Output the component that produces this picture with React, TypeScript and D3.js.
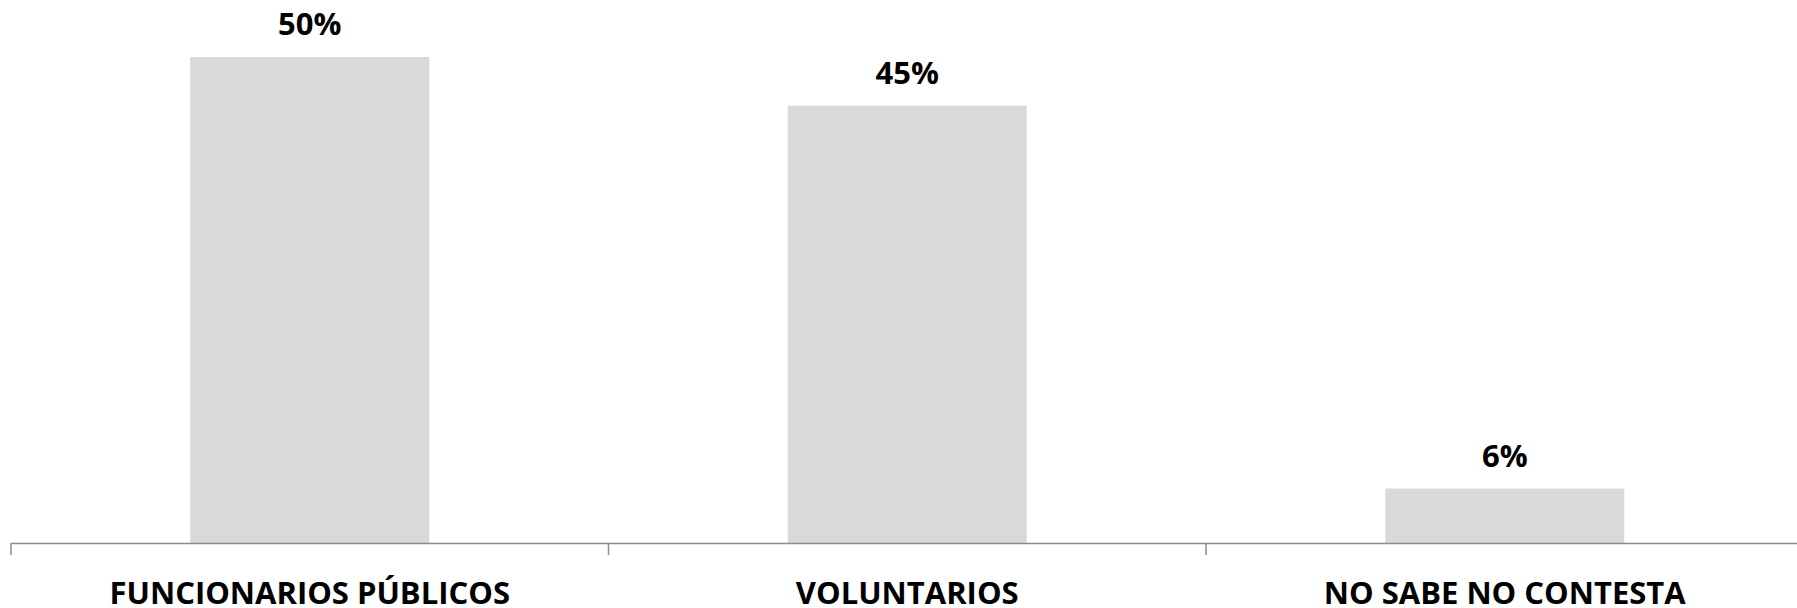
import React from "react";
import * as d3 from "d3";

const categories = ["FUNCIONARIOS PÚBLICOS", "VOLUNTARIOS", "NO SABE NO CONTESTA"];
const values = [50, 45, 5.6];

const W = 1797;
const H = 608;

export default function App() {
  const x = d3
    .scaleBand<string>()
    .domain(categories)
    .range([11, 1803.5])
    .paddingInner(0.6)
    .paddingOuter(0.3);
  const y = d3.scaleLinear().domain([0, 50]).range([543, 57]);
  const step = x.step();
  const fmt = (v: number) => d3.format(".0f")(v) + "%";
  const tickXs = categories.map((c) => (x(c) as number) - x.bandwidth() * 0.75);
  tickXs.push((x(categories[categories.length - 1]) as number) - x.bandwidth() * 0.75 + step);

  return (
    <svg
      width={W}
      height={H}
      style={{ position: "absolute", left: 0, top: 0, background: "#fff" }}
      fontFamily="'Open Sans', 'Noto Sans', sans-serif"
    >
      {categories.map((c, i) => (
        <g key={c}>
          <rect
            x={x(c)}
            y={y(values[i])}
            width={x.bandwidth()}
            height={y(0) - y(values[i])}
            fill="#d9d9d9"
          />
          <text
            x={(x(c) as number) + x.bandwidth() / 2}
            y={y(values[i]) - 22}
            textAnchor="middle"
            fontSize={31}
            fontWeight="bold"
            fill="#000"
          >
            {fmt(values[i])}
          </text>
          <text
            x={(x(c) as number) + x.bandwidth() / 2}
            y={604}
            textAnchor="middle"
            fontSize={31}
            fontWeight="bold"
            fill="#000"
          >
            {c}
          </text>
        </g>
      ))}
      <line x1={11} x2={W} y1={y(0) + 0.5} y2={y(0) + 0.5} stroke="#8c8c8c" strokeWidth={1.5} />
      {tickXs.map((t, i) => (
        <line key={i} x1={t} x2={t} y1={y(0)} y2={y(0) + 12} stroke="#8c8c8c" strokeWidth={1.5} />
      ))}
    </svg>
  );
}
